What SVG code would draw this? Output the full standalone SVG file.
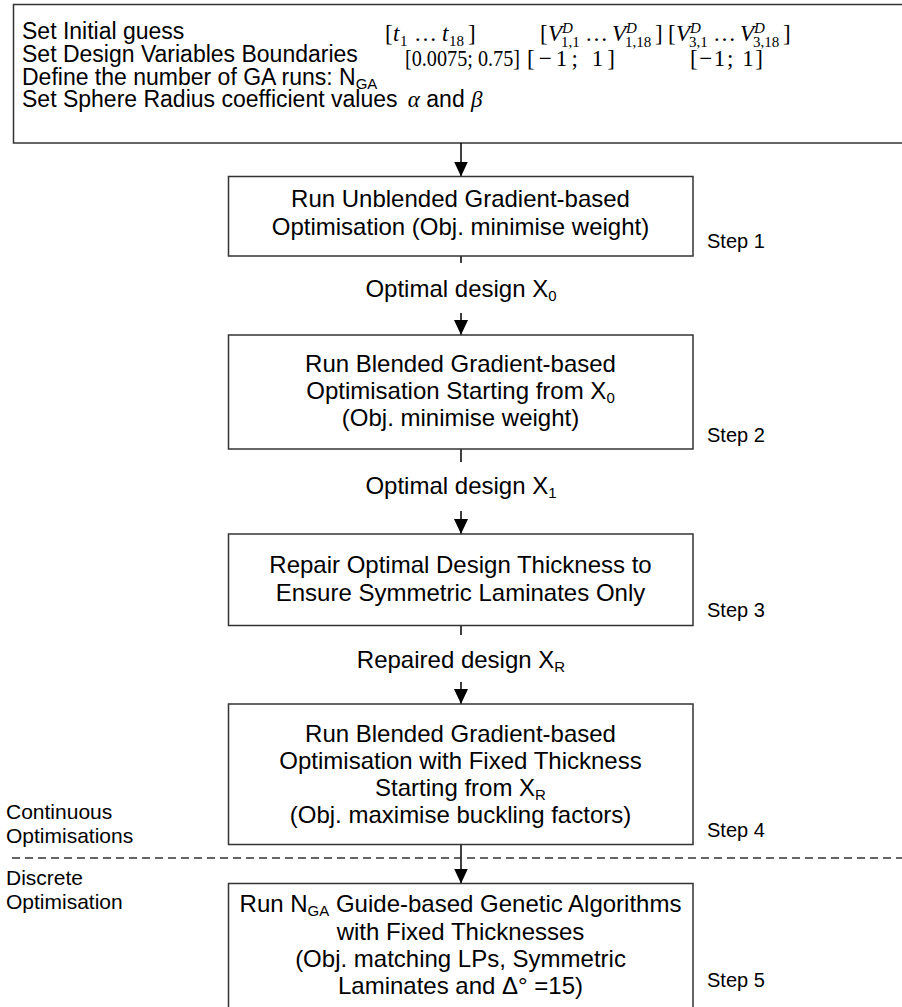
<svg xmlns="http://www.w3.org/2000/svg" width="902" height="1007" viewBox="0 0 902 1007">
<style>
.box{fill:#fff;stroke:#333;stroke-width:1.5}
.t{font-family:"Liberation Sans",Arial,sans-serif;font-size:24px;fill:#000}
.tt{font-family:"Liberation Sans",Arial,sans-serif;font-size:23px;fill:#000}
.c{text-anchor:middle}
.s{font-family:"Liberation Sans",Arial,sans-serif;font-size:20px;fill:#000}
.side{font-family:"Liberation Sans",Arial,sans-serif;font-size:21px;fill:#000}
.m{font-family:"Liberation Serif","Times New Roman",serif;font-size:23px;fill:#000}
.mi{font-style:italic}
.ms{font-size:15px}
.sub{font-size:15px}
.con{stroke:#000;stroke-width:1.5;fill:none}
.dash{stroke:#333;stroke-width:1.5;stroke-dasharray:8 5;fill:none}
</style>
<defs>
<marker id="ah" markerUnits="userSpaceOnUse" markerWidth="15" markerHeight="14" refX="15" refY="7" orient="auto" viewBox="0 0 15 14">
<path d="M0,0 L15,7 L0,14 Z" fill="#000"/>
</marker>
</defs>
<rect width="902" height="1007" fill="#fff"/>

<g id="init">
<rect class="box" x="13.5" y="4.5" width="900" height="138.5"/>
<text class="tt" x="22" y="39">Set Initial guess</text>
<text class="tt" x="22" y="62">Set Design Variables Boundaries</text>
<text class="tt" x="22" y="85">Define the number of GA runs: N<tspan class="sub" dy="4">GA</tspan></text>
<text class="tt" x="22" y="107">Set Sphere Radius coefficient values <tspan class="m mi" dx="4">α</tspan> and <tspan class="m mi">β</tspan></text>
<text class="m"><tspan x="385" y="41">[</tspan><tspan class="mi" x="393" y="41">t</tspan><tspan class="ms" x="400" y="46">1</tspan><tspan x="414" y="41">…</tspan><tspan class="mi" x="442" y="41">t</tspan><tspan class="ms" x="449" y="46">18</tspan><tspan x="468" y="41">]</tspan></text>
<text class="m"><tspan x="540" y="41">[</tspan><tspan class="mi" x="548" y="41">V</tspan><tspan class="ms mi" x="562" y="33">D</tspan><tspan class="ms" x="561" y="47">1,1</tspan><tspan x="585" y="41">…</tspan><tspan class="mi" x="612" y="41">V</tspan><tspan class="ms mi" x="626" y="33">D</tspan><tspan class="ms" x="625" y="47">1,18</tspan><tspan x="655" y="41">]</tspan></text>
<text class="m"><tspan x="668" y="41">[</tspan><tspan class="mi" x="676" y="41">V</tspan><tspan class="ms mi" x="690" y="33">D</tspan><tspan class="ms" x="689" y="47">3,1</tspan><tspan x="713" y="41">…</tspan><tspan class="mi" x="740" y="41">V</tspan><tspan class="ms mi" x="754" y="33">D</tspan><tspan class="ms" x="753" y="47">3,18</tspan><tspan x="783" y="41">]</tspan></text>
<text class="m" x="405" y="66" textLength="115" lengthAdjust="spacingAndGlyphs">[0.0075; 0.75]</text>
<text class="m" x="527" y="66" textLength="88" lengthAdjust="spacing">[−1; 1]</text>
<text class="m" x="690" y="66" textLength="73" lengthAdjust="spacing">[−1; 1]</text>
</g>

<g id="connectors">
<line class="con" x1="461" y1="143" x2="461" y2="176.5" marker-end="url(#ah)"/>
<line class="con" x1="461" y1="256" x2="461" y2="263"/>
<line class="con" x1="461" y1="313" x2="461" y2="335" marker-end="url(#ah)"/>
<line class="con" x1="461" y1="449" x2="461" y2="462"/>
<line class="con" x1="461" y1="511" x2="461" y2="534" marker-end="url(#ah)"/>
<line class="con" x1="461" y1="626" x2="461" y2="635"/>
<line class="con" x1="461" y1="682" x2="461" y2="704" marker-end="url(#ah)"/>
<line class="con" x1="461" y1="845" x2="461" y2="883.5" marker-end="url(#ah)"/>
</g>

<g id="labels">
<text class="t c" x="461" y="297">Optimal design X<tspan class="sub" dy="4">0</tspan></text>
<text class="t c" x="461" y="494">Optimal design X<tspan class="sub" dy="4">1</tspan></text>
<text class="t c" x="461" y="668">Repaired design X<tspan class="sub" dy="4">R</tspan></text>
</g>

<g id="step1">
<rect class="box" x="228.5" y="176.5" width="464.5" height="79.5"/>
<text class="t c" x="460.5" y="207">Run Unblended Gradient-based</text>
<text class="t c" x="460.5" y="235">Optimisation (Obj. minimise weight)</text>
<text class="s" x="707" y="248">Step 1</text>
</g>

<g id="step2">
<rect class="box" x="228.5" y="335" width="464.5" height="114"/>
<text class="t c" x="460.5" y="372">Run Blended Gradient-based</text>
<text class="t c" x="460.5" y="399">Optimisation Starting from X<tspan class="sub" dy="4">0</tspan></text>
<text class="t c" x="460.5" y="426">(Obj. minimise weight)</text>
<text class="s" x="707" y="442">Step 2</text>
</g>

<g id="step3">
<rect class="box" x="228.5" y="534" width="464.5" height="91.5"/>
<text class="t c" x="460.5" y="573">Repair Optimal Design Thickness to</text>
<text class="t c" x="460.5" y="601">Ensure Symmetric Laminates Only</text>
<text class="s" x="707" y="617">Step 3</text>
</g>

<g id="step4">
<rect class="box" x="228.5" y="704" width="464.5" height="140.5"/>
<text class="t c" x="460.5" y="742">Run Blended Gradient-based</text>
<text class="t c" x="460.5" y="769">Optimisation with Fixed Thickness</text>
<text class="t c" x="460.5" y="796">Starting from X<tspan class="sub" dy="4">R</tspan></text>
<text class="t c" x="460.5" y="823">(Obj. maximise buckling factors)</text>
<text class="s" x="707" y="837">Step 4</text>
</g>

<g id="phase">
<line class="dash" x1="12" y1="858" x2="902" y2="858"/>
<text class="side" x="6" y="819">Continuous</text>
<text class="side" x="6" y="843">Optimisations</text>
<text class="side" x="6" y="885">Discrete</text>
<text class="side" x="6" y="909">Optimisation</text>
</g>

<g id="step5">
<rect class="box" x="228.5" y="883.5" width="464.5" height="140"/>
<text class="t c" x="460.5" y="912">Run N<tspan class="sub" dy="4">GA</tspan><tspan dy="-4"> Guide-based Genetic Algorithms</tspan></text>
<text class="t c" x="460.5" y="940">with Fixed Thicknesses</text>
<text class="t c" x="460.5" y="967">(Obj. matching LPs, Symmetric</text>
<text class="t c" x="460.5" y="994">Laminates and Δ° =15)</text>
<text class="s" x="707" y="987">Step 5</text>
</g>
</svg>
